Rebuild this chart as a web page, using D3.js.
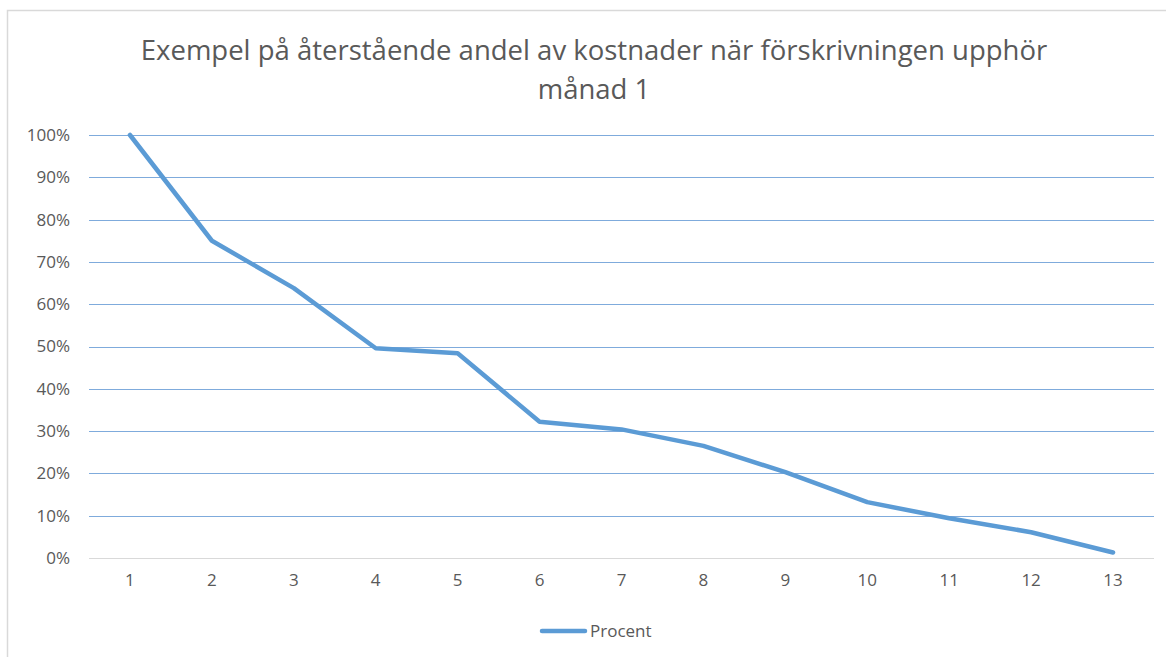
<!DOCTYPE html>
<html><head><meta charset="utf-8">
<script src="https://cdn.jsdelivr.net/npm/d3@7"></script>
<style>body{margin:0;background:#fff;} svg{display:block;}</style>
</head><body>
<svg id="chart" width="1166" height="657"></svg>
<script>
const categories = ["1","2","3","4","5","6","7","8","9","10","11","12","13"];
const procent = [1.00, 0.75, 0.638, 0.496, 0.484, 0.322, 0.304, 0.265, 0.203, 0.132, 0.094, 0.061, 0.013];
const yTicks = [0,0.1,0.2,0.3,0.4,0.5,0.6,0.7,0.8,0.9,1.0];
const titleLines = ["Exempel på återstående andel av kostnader när förskrivningen upphör", "månad 1"];
const seriesName = "Procent";

const W = 1166, H = 657;
const m = {left: 89, right: 1154, top: 135, bottom: 558};
const font = "'Open Sans', sans-serif";
const textColor = "#595959";
const svg = d3.select("#chart");

svg.append("rect").attr("x",7.5).attr("y",10.5).attr("width",1170).attr("height",660)
  .attr("fill","#fff").attr("stroke","#d9d9d9").attr("stroke-width",1.5);

const x = d3.scaleBand().domain(categories).range([m.left, m.right]).padding(0);
const y = d3.scaleLinear().domain([0,1]).range([m.bottom, m.top]);

// gridlines
svg.append("g").selectAll("line").data(yTicks.filter(d=>d>0)).join("line")
  .attr("x1", m.left).attr("x2", m.right)
  .attr("y1", d=>Math.round(y(d))+0.5).attr("y2", d=>Math.round(y(d))+0.5)
  .attr("stroke","#7fabdc").attr("stroke-width",1.1);

// baseline
svg.append("line").attr("x1",m.left).attr("x2",m.right)
  .attr("y1",Math.round(y(0))+0.5).attr("y2",Math.round(y(0))+0.5)
  .attr("stroke","#d9d9d9").attr("stroke-width",1.2);

// y axis labels
const yAxis = d3.axisLeft(y).tickValues(yTicks).tickFormat(d3.format(".0%")).tickSize(0).tickPadding(19);
const gy = svg.append("g").attr("transform",`translate(${m.left},0)`).call(yAxis);
gy.select(".domain").remove();
gy.selectAll("text").attr("fill",textColor).style("font-family",font).style("font-size","17px");

// x axis labels
const xAxis = d3.axisBottom(x).tickSize(0).tickPadding(16);
const gx = svg.append("g").attr("transform",`translate(0,${m.bottom})`).call(xAxis);
gx.select(".domain").remove();
gx.selectAll("text").attr("fill",textColor).style("font-family",font).style("font-size","17px");

// line
const line = d3.line().x((d,i)=>x(categories[i]) + x.bandwidth()/2).y(d=>y(d));
svg.append("path").datum(procent).attr("d",line).attr("fill","none")
  .attr("stroke","#5b9bd5").attr("stroke-width",4.5)
  .attr("stroke-linejoin","round").attr("stroke-linecap","round");

// title
svg.append("text").attr("x",594).attr("y",60).attr("text-anchor","middle")
  .attr("fill",textColor).style("font-family",font).style("font-size","27.5px").text(titleLines[0]);
svg.append("text").attr("x",594).attr("y",99).attr("text-anchor","middle")
  .attr("fill",textColor).style("font-family",font).style("font-size","27.5px").text(titleLines[1]);

// legend
svg.append("line").attr("x1",542).attr("x2",585).attr("y1",631).attr("y2",631)
  .attr("stroke","#5b9bd5").attr("stroke-width",4.5).attr("stroke-linecap","round");
svg.append("text").attr("x",590).attr("y",631).attr("dy","0.35em")
  .attr("fill",textColor).style("font-family",font).style("font-size","17px").text(seriesName);
</script>
</body></html>
